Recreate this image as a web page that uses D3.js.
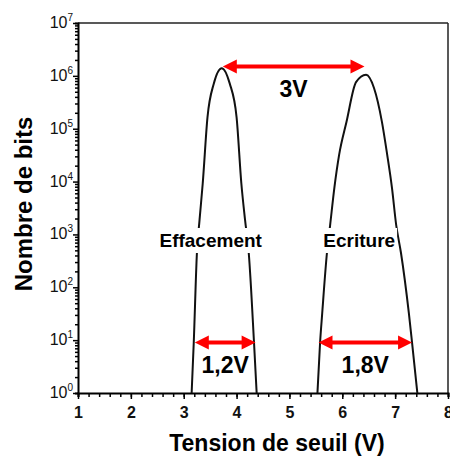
<!DOCTYPE html>
<html>
<head>
<meta charset="utf-8">
<script src="https://cdn.jsdelivr.net/npm/d3@7"></script>
<style>
  body { margin: 0; background: #fff; }
  svg { display: block; font-family: Arial, "Liberation Sans", sans-serif; }
</style>
</head>
<body>
<div id="chart"></div>
<script>
// threshold voltage (V) and number of bits
var effV = [3.15, 3.19, 3.25, 3.30, 3.36, 3.45, 3.57, 3.72, 3.87, 4.00, 4.09, 4.16, 4.23, 4.33, 4.38];
var effN = [1, 9, 450, 1900, 9300, 166000, 720000, 1400000, 720000, 166000, 9300, 1900, 450, 9, 1];

var ecrV = [5.53, 5.58, 5.62, 5.71, 5.77, 5.85, 5.94, 6.08, 6.26, 6.45, 6.60, 6.75, 6.85, 6.94, 7.02, 7.11, 7.26, 7.32, 7.42];
var ecrN = [1, 9, 32, 450, 1500, 7600, 32000, 135000, 760000, 1050000, 590000, 135000, 32000, 7600, 1500, 450, 32, 9, 1];

var xTicks = [1, 2, 3, 4, 5, 6, 7, 8];
var yExps = [0, 1, 2, 3, 4, 5, 6, 7];

// double arrows
var spanLabels = ["3V", "1,2V", "1,8V"];
var spanFrom = [3.74, 3.21, 5.55];
var spanTo = [6.42, 4.36, 7.32];
var spanLevel = [1500000, 9, 9];

var curveNames = ["Effacement", "Ecriture"];
var curveNameV = [3.51, 6.32];

var width = 450, height = 457;
var margin = {left: 78, top: 23, right: 2, bottom: 64};

var svg = d3.select("#chart").append("svg").attr("width", width).attr("height", height);

var x = d3.scaleLinear().domain([1, 8]).range([margin.left, width - margin.right]);
var y = d3.scaleLog().domain([1, 1e7]).range([height - margin.bottom, margin.top]);

// frame top + right
svg.append("line").attr("x1", x(1)).attr("x2", x(8)).attr("y1", y(1e7)).attr("y2", y(1e7))
   .attr("stroke", "#222").attr("stroke-width", 1.5);
svg.append("line").attr("x1", x(8)).attr("x2", x(8)).attr("y1", y(1e7)).attr("y2", y(1))
   .attr("stroke", "#222").attr("stroke-width", 1.5);

// x axis with minor ticks every 0.2 V
var minorX = d3.range(1, 8.001, 0.2);
svg.append("g").attr("transform", "translate(0," + y(1) + ")")
   .call(d3.axisBottom(x).tickValues(minorX).tickSize(4).tickFormat(""))
   .call(function(g) { g.select(".domain").attr("stroke-width", 2); g.selectAll("line").attr("stroke-width", 1.5); });
var xAx = svg.append("g").attr("transform", "translate(0," + y(1) + ")")
   .call(d3.axisBottom(x).tickValues(xTicks).tickSize(6).tickPadding(8).tickFormat(d3.format("d")));
xAx.select(".domain").remove();
xAx.selectAll("line").attr("stroke-width", 1.5);
xAx.selectAll("text").attr("font-size", 16).attr("font-weight", "bold").attr("fill", "#111");

// y axis, log, minor ticks inside each decade
var minorY = [];
yExps.forEach(function(e) {
  if (e < 7) for (var k = 2; k <= 9; k++) minorY.push(k * Math.pow(10, e));
});
svg.append("g").attr("transform", "translate(" + x(1) + ",0)")
   .call(d3.axisLeft(y).tickValues(minorY).tickSize(3).tickFormat(""))
   .call(function(g) { g.select(".domain").attr("stroke-width", 2); g.selectAll("line").attr("stroke-width", 1.5); });
var yAx = svg.append("g").attr("transform", "translate(" + x(1) + ",0)")
   .call(d3.axisLeft(y).tickValues(yExps.map(function(e) { return Math.pow(10, e); })).tickSize(5).tickFormat(""));
yAx.select(".domain").remove();
yAx.selectAll("line").attr("stroke-width", 1.5);

var yLab = svg.append("g").selectAll("text").data(yExps).enter().append("text")
   .attr("x", x(1) - 5)
   .attr("y", function(e) { return y(Math.pow(10, e)) + 5; })
   .attr("text-anchor", "end")
   .attr("font-size", 16)
   .attr("fill", "#111");
yLab.append("tspan").text("10");
yLab.append("tspan").attr("dy", -7).attr("font-size", 10).text(function(e) { return e; });

// axis titles
svg.append("text").attr("x", 277).attr("y", 451).attr("text-anchor", "middle")
   .attr("font-size", 23).attr("font-weight", "bold").text("Tension de seuil (V)");
svg.append("text").attr("transform", "translate(32,204) rotate(-90)").attr("text-anchor", "middle")
   .attr("font-size", 24).attr("font-weight", "bold").text("Nombre de bits");

// distributions
var line = d3.line().x(function(d) { return x(d[0]); }).y(function(d) { return y(d[1]); })
   .curve(d3.curveMonotoneX);
[[effV, effN], [ecrV, ecrN]].forEach(function(s) {
  var pts = s[0].map(function(v, i) { return [v, s[1][i]]; });
  svg.append("path").datum(pts).attr("d", line)
     .attr("fill", "none").attr("stroke", "#111").attr("stroke-width", 2);
});

// curve names on white boxes
curveNames.forEach(function(n, i) {
  var r = svg.append("rect").attr("fill", "#fff");
  var t = svg.append("text").attr("x", x(curveNameV[i])).attr("y", 247)
     .attr("text-anchor", "middle").attr("font-size", 19).attr("font-weight", "bold").text(n);
  var bb = t.node().getBBox();
  r.attr("x", bb.x - 2).attr("y", bb.y - 2).attr("width", bb.width + 4).attr("height", bb.height + 4);
});

// red double arrows
var head = 14, half = 7;
spanLabels.forEach(function(lab, i) {
  var x1 = x(spanFrom[i]), x2 = x(spanTo[i]), yy = y(spanLevel[i]);
  var g = svg.append("g");
  g.append("line").attr("x1", x1 + head - 2).attr("x2", x2 - head + 2).attr("y1", yy).attr("y2", yy)
   .attr("stroke", "#f00").attr("stroke-width", 4);
  g.append("path").attr("fill", "#f00")
   .attr("d", "M" + x1 + "," + yy + "L" + (x1 + head) + "," + (yy - half) + "L" + (x1 + head) + "," + (yy + half) + "Z");
  g.append("path").attr("fill", "#f00")
   .attr("d", "M" + x2 + "," + yy + "L" + (x2 - head) + "," + (yy - half) + "L" + (x2 - head) + "," + (yy + half) + "Z");
  g.append("text").attr("x", (x1 + x2) / 2).attr("y", yy + 30)
   .attr("text-anchor", "middle").attr("font-size", 23).attr("font-weight", "bold").text(lab);
});
</script>
</body>
</html>
